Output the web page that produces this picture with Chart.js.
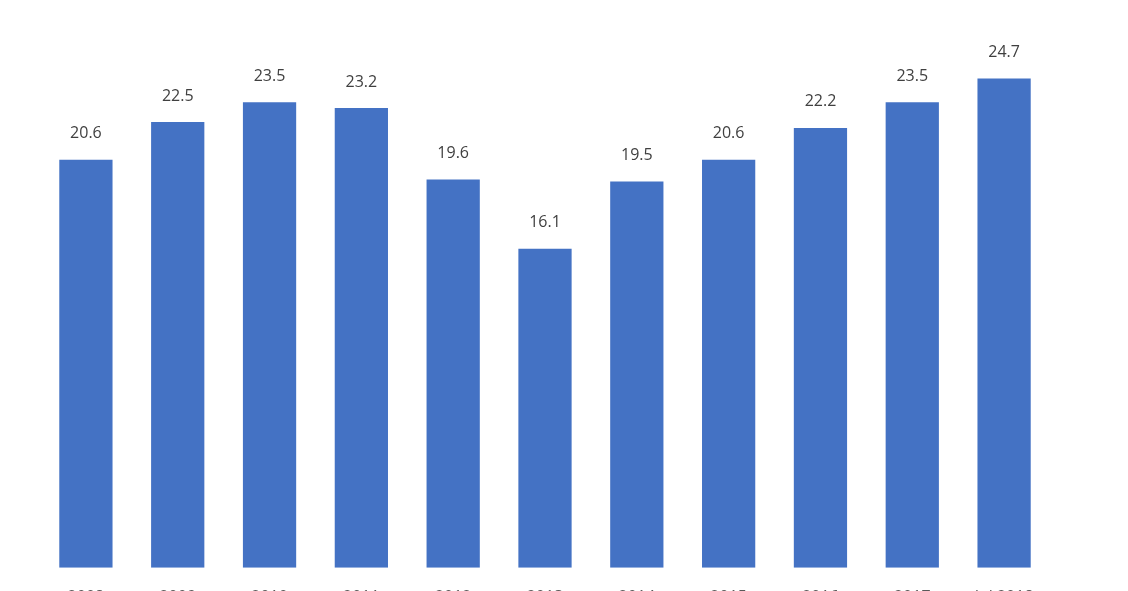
<!DOCTYPE html>
<html>
<head>
<meta charset="utf-8">
<script src="https://cdn.jsdelivr.net/npm/chart.js@4"></script>
<style>
  html, body { margin: 0; padding: 0; background: #fff; overflow: hidden; }
  #wrap { width: 1128px; height: 647px; }
</style>
</head>
<body>
<div id="wrap"><canvas id="myCanvas" width="1128" height="647"></canvas></div>
<script>
var years = ['2008', '2009', '2010', '2011', '2012', '2013', '2014', '2015', '2016', '2017', 'Jul 2018'];
var values = [20.6, 22.5, 23.5, 23.2, 19.6, 16.1, 19.5, 20.6, 22.2, 23.5, 24.7];

// draw the number above each bar
var valueLabels = {
  id: 'valueLabels',
  afterDatasetsDraw: function(chart) {
    var ctx = chart.ctx;
    var meta = chart.getDatasetMeta(0);
    ctx.save();
    ctx.font = '16px "Open Sans", sans-serif';
    ctx.fillStyle = '#404040';
    ctx.textAlign = 'center';
    ctx.textBaseline = 'middle';
    meta.data.forEach(function(bar, i) {
      ctx.fillText(values[i].toFixed(1), bar.x, bar.y - 26);
    });
    ctx.restore();
  }
};

var ctx = document.getElementById('myCanvas');

var chart = new Chart(ctx, {
  type: 'bar',
  data: {
    labels: years,
    datasets: [{
      data: values,
      backgroundColor: '#4472C4',
      borderWidth: 0,
      categoryPercentage: 1,
      barPercentage: 0.58
    }]
  },
  options: {
    responsive: false,
    animation: false,
    layout: { padding: { left: 40, right: 78, top: 13, bottom: 28 } },
    plugins: {
      legend: { display: false },
      tooltip: { enabled: false }
    },
    scales: {
      x: {
        grid: { display: false },
        border: { display: false },
        ticks: {
          color: '#595959',
          font: { family: '"Open Sans", sans-serif', size: 16 },
          padding: 12,
          maxRotation: 0,
          autoSkip: false
        }
      },
      y: {
        display: false,
        min: 0,
        max: 28
      }
    }
  },
  plugins: [valueLabels]
});
</script>
</body>
</html>
